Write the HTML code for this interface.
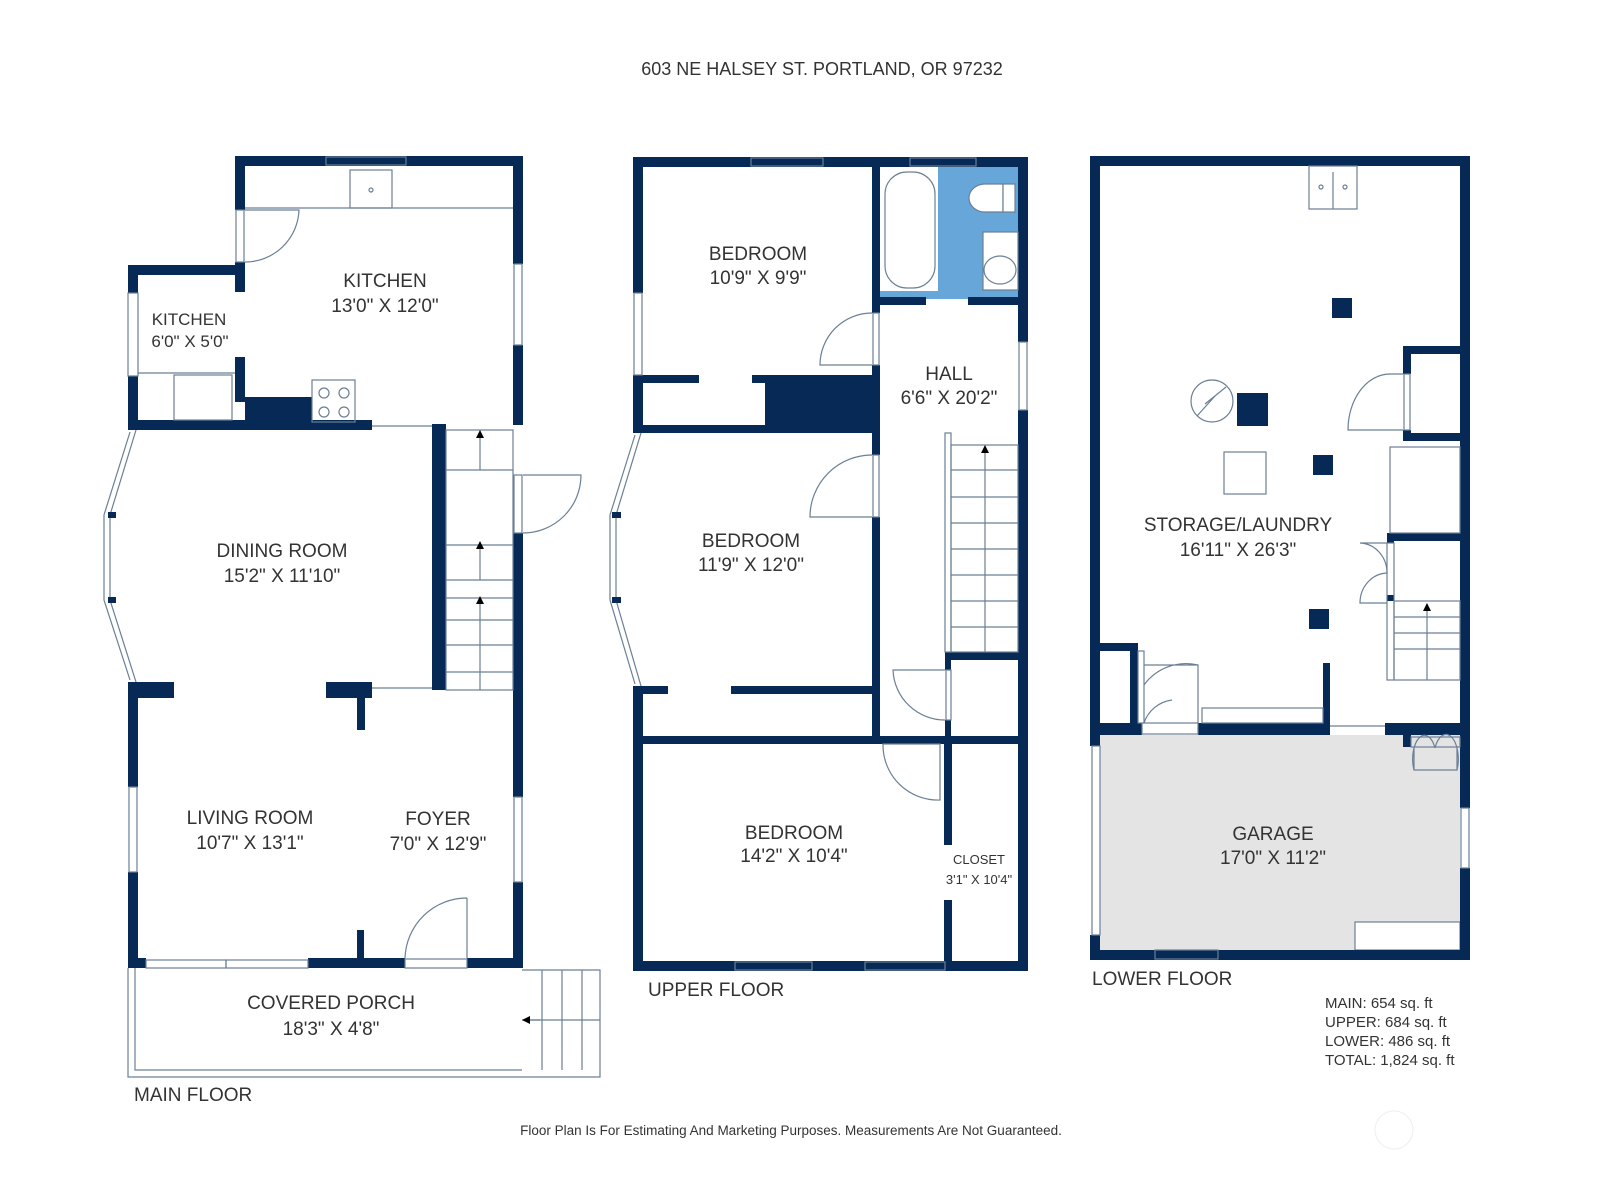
<!DOCTYPE html>
<html><head><meta charset="utf-8"><style>
html,body{margin:0;padding:0;background:#fff;}
svg{display:block}
text{font-family:"Liberation Sans",sans-serif;fill:#333;}
</style></head><body>
<svg width="1598" height="1200" viewBox="0 0 1598 1200" xmlns="http://www.w3.org/2000/svg">
<defs><marker id="ar" markerWidth="8" markerHeight="8" refX="7" refY="4" orient="auto" markerUnits="userSpaceOnUse"><path d="M0,0 L8,4 L0,8Z" fill="#000"/></marker></defs>
<text x="822" y="75" font-size="18" text-anchor="middle">603 NE HALSEY ST. PORTLAND, OR 97232</text>

<!-- ===== MAIN FLOOR ===== -->
<g fill="#062a55">
<rect x="235" y="156" width="288" height="10"/>
<rect x="235" y="156" width="10" height="54"/>
<rect x="235" y="262" width="10" height="30"/>
<rect x="235" y="357" width="10" height="45"/>
<rect x="513" y="156" width="10" height="108"/>
<rect x="513" y="345" width="10" height="80"/>
<rect x="513" y="533" width="10" height="264"/>
<rect x="513" y="882" width="10" height="86"/>
<rect x="128" y="265" width="117" height="10"/>
<rect x="128" y="265" width="10" height="28"/>
<rect x="128" y="376" width="10" height="54"/>
<rect x="245" y="397" width="67" height="25"/>
<rect x="128" y="420" width="244" height="10"/>
<rect x="432" y="424" width="14" height="266"/>
<rect x="128" y="682" width="46" height="16"/>
<rect x="326" y="682" width="46" height="16"/>
<rect x="357" y="690" width="8" height="40"/>
<rect x="128" y="690" width="10" height="97"/>
<rect x="128" y="872" width="10" height="96"/>
<rect x="128" y="958" width="18" height="10"/>
<rect x="308" y="958" width="97" height="10"/>
<rect x="467" y="958" width="56" height="10"/>
<rect x="357" y="930" width="7" height="30"/>
</g>
<g fill="none" stroke="#6b7f95" stroke-width="1.2">
<rect x="326" y="157" width="80" height="8"/><rect x="128" y="293" width="10" height="83"/>
<rect x="236" y="210" width="8" height="52"/><rect x="514" y="264" width="8" height="81"/>
<rect x="514" y="797" width="8" height="85"/><rect x="514" y="475" width="8" height="58"/>
<rect x="129" y="787" width="8" height="85"/>
<rect x="146" y="960" width="80" height="8"/><rect x="226" y="960" width="82" height="8"/>
<rect x="405" y="959" width="62" height="9"/>
<line x1="245" y1="208" x2="513" y2="208"/>
<rect x="350" y="170" width="42" height="38"/><circle cx="371" cy="190" r="2"/>
<rect x="312" y="380" width="43" height="42"/>
<circle cx="324" cy="393" r="5"/><circle cx="344" cy="393" r="5"/><circle cx="324" cy="412" r="5"/><circle cx="344" cy="412" r="5"/>
<line x1="138" y1="373" x2="235" y2="373"/><rect x="174" y="375" width="58" height="45"/>
<path d="M245,210 H299 A54,54 0 0 1 245,262"/>
<path d="M523,475 H581 A58,58 0 0 1 523,533"/>
<path d="M467,898 A62,62 0 0 0 405,958 M467,898 V958"/>
<line x1="372" y1="426" x2="432" y2="426"/><line x1="372" y1="688" x2="432" y2="688"/>
<rect x="446" y="430" width="67" height="260"/>
<line x1="446" y1="470" x2="513" y2="470"/><line x1="446" y1="545" x2="513" y2="545"/>
<line x1="446" y1="580" x2="513" y2="580"/><line x1="446" y1="598" x2="513" y2="598"/>
<line x1="446" y1="620" x2="513" y2="620"/><line x1="446" y1="645" x2="513" y2="645"/>
<line x1="446" y1="672" x2="513" y2="672"/>
<line x1="480" y1="470" x2="480" y2="431" marker-end="url(#ar)"/>
<line x1="480" y1="580" x2="480" y2="542" marker-end="url(#ar)"/>
<line x1="480" y1="690" x2="480" y2="597" marker-end="url(#ar)"/>
<path d="M136,430 L110,515 L110,600 L136,682"/><path d="M130,432 L104,515 L104,600 L130,680"/>
<path d="M128,968 V1077 H600 V970 H522 M135,968 V1070 H522"/>
<path d="M542,970 V1070 M562,970 V1070 M582,970 V1070 M522,1020 H600"/>
<line x1="540" y1="1020" x2="523" y2="1020" marker-end="url(#ar)"/>
</g>
<g fill="#062a55"><rect x="108" y="512" width="8" height="6"/><rect x="108" y="597" width="8" height="6"/></g>
<g font-size="19" text-anchor="middle">
<text x="385" y="287">KITCHEN</text><text x="385" y="312">13'0" X 12'0"</text>
<text x="189" y="325" font-size="17">KITCHEN</text><text x="190" y="347" font-size="17">6'0" X 5'0"</text>
<text x="282" y="557">DINING ROOM</text><text x="282" y="582">15'2" X 11'10"</text>
<text x="250" y="824">LIVING ROOM</text><text x="250" y="849">10'7" X 13'1"</text>
<text x="438" y="825">FOYER</text><text x="438" y="850">7'0" X 12'9"</text>
<text x="331" y="1009">COVERED PORCH</text><text x="331" y="1035">18'3" X 4'8"</text>
<text x="134" y="1101" text-anchor="start">MAIN FLOOR</text>
</g>

<!-- ===== UPPER FLOOR ===== -->
<rect x="880" y="166" width="138" height="133" fill="#66a6d8"/>
<rect x="880" y="166" width="58" height="125" fill="#fff"/>
<rect x="983" y="232" width="35" height="58" fill="#fff"/>
<g fill="#062a55">
<rect x="633" y="157" width="395" height="10"/>
<rect x="633" y="157" width="10" height="136"/>
<rect x="633" y="375" width="10" height="58"/>
<rect x="633" y="686" width="10" height="285"/>
<rect x="1018" y="157" width="10" height="185"/>
<rect x="1018" y="410" width="10" height="561"/>
<rect x="872" y="165" width="8" height="148"/>
<rect x="872" y="365" width="8" height="90"/>
<rect x="872" y="517" width="8" height="225"/>
<rect x="643" y="375" width="56" height="8"/>
<rect x="752" y="375" width="128" height="8"/>
<rect x="765" y="375" width="115" height="58"/>
<rect x="643" y="425" width="237" height="8"/>
<rect x="880" y="297" width="46" height="8"/>
<rect x="968" y="297" width="50" height="8"/>
<rect x="945" y="652" width="73" height="8"/>
<rect x="945" y="652" width="6" height="18"/>
<rect x="945" y="720" width="6" height="22"/>
<rect x="643" y="686" width="25" height="8"/>
<rect x="731" y="686" width="149" height="8"/>
<rect x="633" y="736" width="395" height="8"/>
<rect x="944" y="744" width="8" height="101"/>
<rect x="944" y="900" width="8" height="71"/>
<rect x="633" y="961" width="395" height="10"/>
</g>
<g fill="none" stroke="#6b7f95" stroke-width="1.2">
<rect x="751" y="158" width="72" height="8"/><rect x="910" y="158" width="66" height="8"/>
<rect x="634" y="293" width="8" height="82"/><rect x="1019" y="342" width="8" height="68"/>
<rect x="735" y="962" width="77" height="8"/><rect x="865" y="962" width="80" height="8"/>
<rect x="885" y="172" width="50" height="116" rx="22" fill="#fff"/>
<path d="M1003,184 H985 A16,14 0 0 0 985,212 H1003 Z" fill="#fff"/><rect x="1003" y="184" width="12" height="28" fill="#fff"/>
<rect x="983" y="232" width="35" height="58"/>
<ellipse cx="1000" cy="270" rx="16" ry="14"/>
<path d="M872,313 A52,52 0 0 0 820,365 H872"/><rect x="873" y="313" width="6" height="52"/>
<path d="M872,455 A62,62 0 0 0 810,517 H872"/><rect x="873" y="455" width="6" height="62"/>
<path d="M945,670 H893 A52,52 0 0 0 945,720"/><rect x="946" y="670" width="5" height="50"/>
<path d="M940,744 H883 A55,55 0 0 0 940,800 Z"/>
<rect x="945" y="433" width="6" height="219"/><rect x="951" y="445" width="67" height="207"/>
<line x1="951" y1="470" x2="1018" y2="470"/><line x1="951" y1="497" x2="1018" y2="497"/>
<line x1="951" y1="523" x2="1018" y2="523"/><line x1="951" y1="549" x2="1018" y2="549"/>
<line x1="951" y1="575" x2="1018" y2="575"/><line x1="951" y1="601" x2="1018" y2="601"/>
<line x1="951" y1="627" x2="1018" y2="627"/>
<line x1="985" y1="652" x2="985" y2="446" marker-end="url(#ar)"/>
<path d="M641,433 L616,515 L616,600 L641,686"/><path d="M635,435 L610,515 L610,600 L635,684"/>
</g>
<g fill="#062a55"><rect x="612" y="512" width="9" height="6"/><rect x="612" y="597" width="9" height="6"/></g>
<g font-size="19" text-anchor="middle">
<text x="758" y="260">BEDROOM</text><text x="758" y="284">10'9" X 9'9"</text>
<text x="949" y="380">HALL</text><text x="949" y="404">6'6" X 20'2"</text>
<text x="751" y="547">BEDROOM</text><text x="751" y="571">11'9" X 12'0"</text>
<text x="794" y="839">BEDROOM</text><text x="794" y="862">14'2" X 10'4"</text>
<text x="979" y="864" font-size="13">CLOSET</text><text x="979" y="884" font-size="13">3'1" X 10'4"</text>
<text x="648" y="996" text-anchor="start">UPPER FLOOR</text>
</g>

<!-- ===== LOWER FLOOR ===== -->
<rect x="1100" y="735" width="360" height="215" fill="#e4e4e4"/>
<rect x="1355" y="922" width="105" height="28" fill="#fff" stroke="#6b7f95" stroke-width="1.2"/>
<g fill="#062a55">
<rect x="1090" y="156" width="380" height="10"/>
<rect x="1090" y="156" width="10" height="590"/>
<rect x="1090" y="935" width="10" height="25"/>
<rect x="1460" y="156" width="10" height="652"/>
<rect x="1460" y="868" width="10" height="92"/>
<rect x="1090" y="950" width="380" height="10"/>
<rect x="1100" y="643" width="38" height="8"/>
<rect x="1130" y="643" width="8" height="80"/>
<rect x="1100" y="723" width="42" height="12"/>
<rect x="1198" y="723" width="132" height="12"/>
<rect x="1323" y="663" width="7" height="72"/>
<rect x="1385" y="723" width="75" height="12"/>
<rect x="1403" y="735" width="8" height="12"/>
<rect x="1403" y="346" width="57" height="8"/><rect x="1403" y="346" width="8" height="28"/>
<rect x="1403" y="430" width="8" height="10"/><rect x="1403" y="433" width="57" height="8"/>
<rect x="1387" y="533" width="73" height="8"/><rect x="1387" y="533" width="7" height="10"/>
<rect x="1387" y="595" width="7" height="6"/>
<rect x="1332" y="298" width="20" height="20"/>
<rect x="1237" y="393" width="31" height="33"/>
<rect x="1313" y="455" width="20" height="20"/>
<rect x="1309" y="609" width="20" height="20"/>
</g>
<g fill="none" stroke="#6b7f95" stroke-width="1.2">
<rect x="1092" y="746" width="8" height="189"/><rect x="1461" y="808" width="8" height="60"/>
<rect x="1155" y="950" width="63" height="9"/>
<rect x="1309" y="166" width="48" height="43"/><line x1="1333" y1="172" x2="1333" y2="209"/>
<circle cx="1321" cy="187" r="2"/><circle cx="1345" cy="187" r="2"/>
<circle cx="1212" cy="401" r="21"/><path d="M1197,416 L1215,396 L1205,404 L1226,387"/>
<rect x="1224" y="452" width="42" height="42"/>
<path d="M1403,374 H1390 A42,56 0 0 0 1348,430 H1403"/><rect x="1404" y="374" width="6" height="56"/>
<rect x="1390" y="447" width="70" height="86"/>
<path d="M1387,543 H1360 A28,30 0 0 1 1387,573 A28,30 0 0 0 1360,603 H1387"/>
<rect x="1387" y="543" width="7" height="137"/><rect x="1394" y="601" width="66" height="79"/>
<line x1="1394" y1="617" x2="1460" y2="617"/><line x1="1394" y1="633" x2="1460" y2="633"/><line x1="1394" y1="649" x2="1460" y2="649"/>
<line x1="1427" y1="680" x2="1427" y2="604" marker-end="url(#ar)"/>
<rect x="1138" y="651" width="6" height="72"/>
<path d="M1144,665 H1198 V723 M1144,685 A52,52 0 0 1 1198,665 M1144,723 A34,34 0 0 1 1172,700"/>
<rect x="1142" y="723" width="56" height="11"/>
<rect x="1202" y="708" width="121" height="15"/>
<line x1="1330" y1="726" x2="1385" y2="726"/>
<rect x="1411" y="737" width="49" height="10"/>
<path d="M1414,747 V770 H1457 V747 M1414,770 A10,20 0 0 1 1435,748 M1457,770 A10,20 0 0 0 1435,748"/>
</g>
<g font-size="19" text-anchor="middle">
<text x="1238" y="531">STORAGE/LAUNDRY</text><text x="1238" y="556">16'11" X 26'3"</text>
<text x="1273" y="840">GARAGE</text><text x="1273" y="864">17'0" X 11'2"</text>
<text x="1092" y="985" text-anchor="start">LOWER FLOOR</text>
</g>
<g font-size="15">
<text x="1325" y="1008">MAIN: 654 sq. ft</text>
<text x="1325" y="1027">UPPER: 684 sq. ft</text>
<text x="1325" y="1046">LOWER: 486 sq. ft</text>
<text x="1325" y="1065">TOTAL: 1,824 sq. ft</text>
</g>
<text x="791" y="1135" font-size="13.5" text-anchor="middle">Floor Plan Is For Estimating And Marketing Purposes. Measurements Are Not Guaranteed.</text>
<circle cx="1394" cy="1130" r="19" fill="none" stroke="#eee" stroke-width="1"/>
</svg>
</body></html>
